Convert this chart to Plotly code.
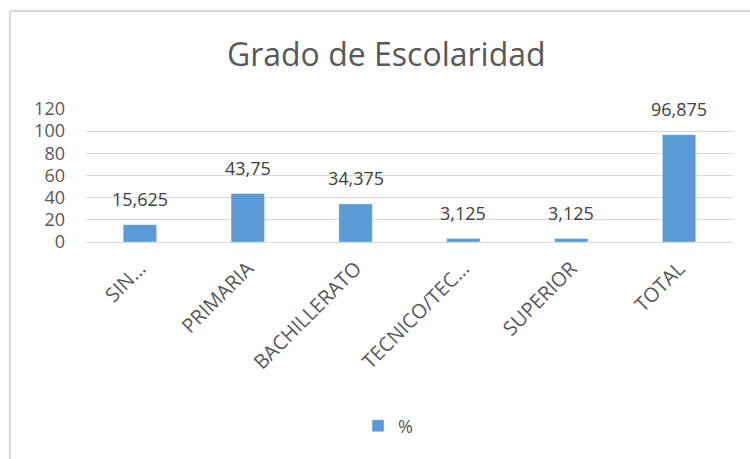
import plotly.graph_objects as go

# datos
categorias = ["SIN…", "PRIMARIA", "BACHILLERATO", "TECNICO/TEC…", "SUPERIOR", "TOTAL"]
porcentajes = [15.625, 43.75, 34.375, 3.125, 3.125, 96.875]
etiquetas = [f"{v:g}".replace(".", ",") for v in porcentajes]
ticks_y = [0, 20, 40, 60, 80, 100, 120]

gris_texto = "#595959"
azul = "#5b9bd5"

# area de trazado en pixeles (ventana 750x459)
W, H = 750, 459
izq, der, arriba, abajo = 86, 733, 109, 242
ancho_px = der - izq
alto_px = abajo - arriba


def px_x(x):
    return (x - izq) / ancho_px


def px_y(y):
    return (abajo - y) / alto_px


fig = go.Figure()
fig.add_trace(go.Bar(
    x=categorias,
    y=porcentajes,
    name="%",
    marker_color=azul,
    cliponaxis=False,
))

# etiquetas de datos, algo separadas de la barra como en Excel
for cat, val, txt in zip(categorias, porcentajes, etiquetas):
    fig.add_annotation(x=cat, y=val, text=txt, showarrow=False,
                       yanchor="middle", yshift=26,
                       font=dict(size=18, color="#404040"))

fig.update_layout(
    width=W,
    height=H,
    margin=dict(l=izq, r=W - der, t=arriba, b=H - abajo, autoexpand=False),
    paper_bgcolor="white",
    plot_bgcolor="white",
    font=dict(family="Open Sans, sans-serif", color=gris_texto),
    title=dict(text="Grado de Escolaridad", x=0.515, xanchor="center",
               y=1 - 55 / H, yanchor="middle",
               font=dict(size=32, color=gris_texto)),
    bargap=0.69,
    showlegend=True,
    legend=dict(orientation="h", x=px_x(358), xanchor="left", y=px_y(426),
                yanchor="middle", yref="paper", itemwidth=30,
                font=dict(size=18, color=gris_texto)),
    shapes=[
        dict(type="line", xref="paper", yref="paper",
             x0=px_x(10), x1=px_x(10), y0=px_y(11), y1=px_y(459),
             line=dict(color="#d9d9d9", width=2)),
        dict(type="line", xref="paper", yref="paper",
             x0=px_x(10), x1=px_x(750), y0=px_y(11), y1=px_y(11),
             line=dict(color="#d9d9d9", width=2)),
    ],
)

fig.update_xaxes(
    tickangle=-45,
    tickfont=dict(size=20, color=gris_texto),
    showline=True,
    linecolor="#d9d9d9",
    linewidth=1,
    ticks="",
    ticklabelstandoff=6,
    automargin=False,
)
fig.update_yaxes(
    range=[0, 120],
    tickvals=ticks_y,
    tickfont=dict(size=18, color=gris_texto),
    gridcolor="#d9d9d9",
    zeroline=False,
    ticks="",
    ticklabelstandoff=20,
    automargin=False,
)

# quitar el margen del body para que el grafico ocupe la ventana completa
fig.write_html("out.html", config={"displayModeBar": False},
               post_script="document.body.style.margin='0';")
